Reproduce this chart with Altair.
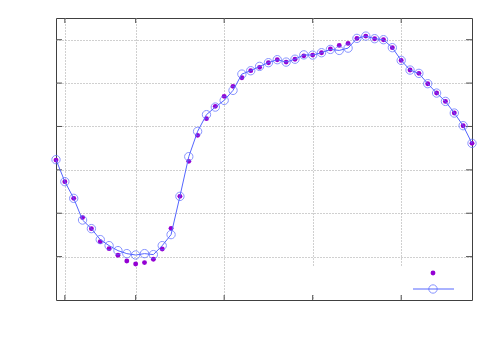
import altair as alt
import pandas as pd

years = list(range(1971, 2019))
line_vals = [3.235, 2.728, 2.343, 1.843, 1.645, 1.392, 1.253, 1.138, 1.069, 1.037,
             1.069, 1.046, 1.253, 1.507, 2.389, 3.304, 3.887, 4.272, 4.447, 4.601,
             4.832, 5.207, 5.285, 5.385, 5.470, 5.539, 5.484, 5.550, 5.650, 5.645,
             5.700, 5.776, 5.753, 5.806, 6.030, 6.083, 6.023, 6.000, 5.816, 5.523,
             5.300, 5.224, 4.986, 4.770, 4.578, 4.309, 4.018, 3.611]
dot_vals = [3.225, 2.728, 2.343, 1.899, 1.645, 1.346, 1.184, 1.030, 0.899, 0.829,
            0.862, 0.938, 1.175, 1.652, 2.389, 3.196, 3.795, 4.180, 4.463, 4.694,
            4.924, 5.124, 5.286, 5.362, 5.470, 5.539, 5.484, 5.550, 5.627, 5.645,
            5.700, 5.788, 5.869, 5.915, 6.030, 6.083, 6.023, 6.000, 5.816, 5.523,
            5.300, 5.224, 4.986, 4.770, 4.578, 4.309, 4.018, 3.611]
x_ticks = [1972, 1980, 1990, 2000, 2010]
y_ticks = [1, 2, 3, 4, 5, 6]

W, H = 416, 282
df = pd.DataFrame({"year": years, "line": line_vals, "dot": dot_vals})
xt = pd.DataFrame({"t": x_ticks})
yt = pd.DataFrame({"t": y_ticks})
one = pd.DataFrame({"a": [0]})

xs = alt.Scale(domain=[1971, 2018], nice=False, zero=False)
ys = alt.Scale(domain=[0, 6.5], nice=False, zero=False)

grid_axis_x = alt.Axis(values=x_ticks, labels=False, ticks=False, domain=False, grid=True,
                       gridDash=[1, 2], gridColor="#a0a0a0", gridWidth=1, title=None)
grid_axis_y = alt.Axis(values=y_ticks, labels=False, ticks=False, domain=False, grid=True,
                       gridDash=[1, 2], gridColor="#a0a0a0", gridWidth=1, title=None)

base = alt.Chart(df)

# invisible layer carrying grid axes
gridlayer = base.mark_point(opacity=0).encode(
    x=alt.X("year:Q", scale=xs, axis=grid_axis_x),
    y=alt.Y("line:Q", scale=ys, axis=grid_axis_y),
)

# opaque key area (blanks grid)
keybox = alt.Chart(one).mark_rect(color="white").encode(
    x=alt.value(214), x2=alt.value(414), y=alt.value(248), y2=alt.value(277)
)

tc = "#505050"
xb = alt.Chart(xt).mark_rule(color=tc, strokeWidth=1).encode(
    x=alt.X("t:Q", scale=xs), y=alt.value(H), y2=alt.value(H - 5))
xtop = alt.Chart(xt).mark_rule(color=tc, strokeWidth=1).encode(
    x=alt.X("t:Q", scale=xs), y=alt.value(0), y2=alt.value(5))
yl = alt.Chart(yt).mark_rule(color=tc, strokeWidth=1).encode(
    y=alt.Y("t:Q", scale=ys), x=alt.value(0), x2=alt.value(6))
yr = alt.Chart(yt).mark_rule(color=tc, strokeWidth=1).encode(
    y=alt.Y("t:Q", scale=ys), x=alt.value(W), x2=alt.value(W - 6))

purple = "#9400d3"
blue = "#5566ff"

dots = base.mark_circle(color=purple, size=24, opacity=1).encode(
    x=alt.X("year:Q", scale=xs), y=alt.Y("dot:Q", scale=ys))
line = base.mark_line(color=blue, strokeWidth=1).encode(
    x=alt.X("year:Q", scale=xs), y=alt.Y("line:Q", scale=ys))
circles = base.mark_point(shape="circle", color=blue, filled=False, size=70, strokeWidth=1).encode(
    x=alt.X("year:Q", scale=xs), y=alt.Y("line:Q", scale=ys))

# key samples
key_dot = alt.Chart(one).mark_circle(color=purple, size=24, opacity=1).encode(
    x=alt.value(377), y=alt.value(255))
key_line = alt.Chart(one).mark_rule(color=blue, strokeWidth=1).encode(
    x=alt.value(357), x2=alt.value(398), y=alt.value(271))
key_circ = alt.Chart(one).mark_point(shape="circle", color=blue, filled=False, size=70, strokeWidth=1).encode(
    x=alt.value(377), y=alt.value(271))

chart = alt.layer(
    gridlayer, keybox, xb, xtop, yl, yr, dots, line, circles, key_dot, key_line, key_circ
).properties(
    width=W, height=H,
    autosize=alt.AutoSizeParams(type="none"),
    padding={"left": 48, "top": 10, "right": 20, "bottom": 40},
    background="white",
).configure_view(stroke="#404040", strokeWidth=1)

chart.save("out.html", embed_options={"renderer": "svg", "actions": False})
